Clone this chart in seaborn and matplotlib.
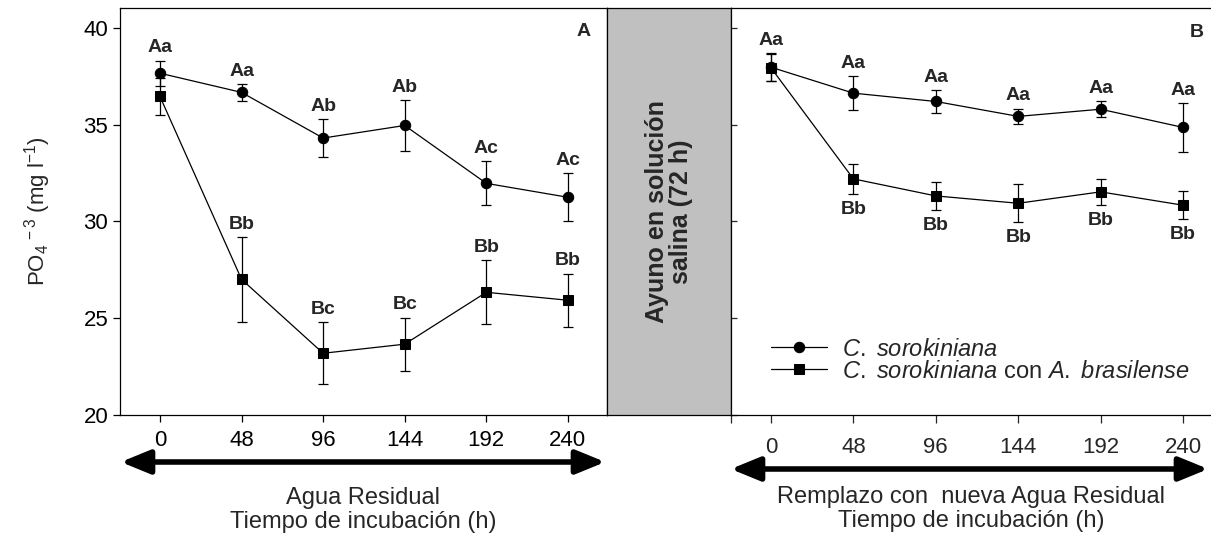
import matplotlib
matplotlib.use("Agg")
import matplotlib.pyplot as plt
import seaborn as sns
from matplotlib.patches import FancyArrowPatch

# data
hours = [0, 48, 96, 144, 192, 240]

# panel A: wastewater
a_cs = [37.66, 36.67, 34.31, 34.96, 31.97, 31.25]
a_cs_err = [0.65, 0.42, 0.98, 1.30, 1.14, 1.25]
a_ca = [36.46, 27.01, 23.19, 23.66, 26.34, 25.93]
a_ca_err = [0.95, 2.20, 1.60, 1.37, 1.65, 1.38]
a_cs_lab = ["Aa", "Aa", "Ab", "Ab", "Ac", "Ac"]
a_ca_lab = ["", "Bb", "Bc", "Bc", "Bb", "Bb"]

# panel B: replaced with new wastewater
b_cs = [37.97, 36.63, 36.20, 35.43, 35.80, 34.86]
b_cs_err = [0.73, 0.88, 0.60, 0.40, 0.42, 1.27]
b_ca = [37.94, 32.20, 31.32, 30.94, 31.53, 30.84]
b_ca_err = [0.70, 0.77, 0.72, 0.98, 0.67, 0.72]
b_cs_lab = ["Aa", "Aa", "Aa", "Aa", "Aa", "Aa"]
b_ca_lab = ["", "Bb", "Bb", "Bb", "Bb", "Bb"]

yticks = [20, 25, 30, 35, 40]
lab_cs = r"$\it{C.\ sorokiniana}$"
lab_ca = r"$\it{C.\ sorokiniana}$ con $\it{A.\ brasilense}$"

sns.set_style("ticks")
plt.rcParams["font.family"] = ["Liberation Sans", "DejaVu Sans"]
plt.rcParams["mathtext.fontset"] = "custom"
plt.rcParams["mathtext.rm"] = "Liberation Sans"
plt.rcParams["mathtext.it"] = "Liberation Sans:italic"
plt.rcParams["mathtext.bf"] = "Liberation Sans:bold"
plt.rcParams["mathtext.default"] = "regular"

fig = plt.figure(figsize=(12.11, 5.42), dpi=100)
W, H = 1211.0, 542.0
bot = 1 - 415 / H
hgt = (415 - 8) / H
axA = fig.add_axes([120 / W, bot, (607 - 120) / W, hgt])
axG = fig.add_axes([607 / W, bot, (731 - 607) / W, hgt])
axB = fig.add_axes([731 / W, bot, (1211 - 731) / W, hgt])


def draw_panel(ax, cs, cs_err, ca, ca_err, cs_lab, ca_lab, below, legend):
    for y, e, m, ms, lab in [(cs, cs_err, "o", 7.5, lab_cs), (ca, ca_err, "s", 6.5, lab_ca)]:
        ax.errorbar(hours, y, yerr=e, fmt="none", ecolor="black", elinewidth=0.9,
                    capsize=3.5, capthick=0.9, zorder=2)
        sns.lineplot(x=hours, y=y, ax=ax, color="black", marker=m, markersize=ms,
                     markeredgecolor="black", linewidth=0.9, label=lab,
                     legend=legend, zorder=3)
    for x, y, e, t in zip(hours, cs, cs_err, cs_lab):
        ax.annotate(t, (x, y + e), xytext=(0, 3), textcoords="offset points",
                    ha="center", va="bottom", fontsize=14, fontweight="bold")
    for x, y, e, t in zip(hours, ca, ca_err, ca_lab):
        if below:
            ax.annotate(t, (x, y - e), xytext=(0, -5), textcoords="offset points",
                        ha="center", va="top", fontsize=14, fontweight="bold")
        else:
            ax.annotate(t, (x, y + e), xytext=(0, 3), textcoords="offset points",
                        ha="center", va="bottom", fontsize=14, fontweight="bold")
    ax.set_ylim(20, 41.03)
    for s in ax.spines.values():
        s.set_color("black")
        s.set_linewidth(0.9)


draw_panel(axA, a_cs, a_cs_err, a_ca, a_ca_err, a_cs_lab, a_ca_lab, False, False)
draw_panel(axB, b_cs, b_cs_err, b_ca, b_ca_err, b_cs_lab, b_ca_lab, True, True)

# panel A axes
axA.set_xlim(-23.5, 263)
axA.set_xticks(hours)
axA.set_xticklabels([str(h) for h in hours])
axA.set_yticks(yticks)
axA.tick_params(axis="both", direction="out", length=5, width=0.9, labelsize=16,
                colors="black")
axA.tick_params(axis="x", pad=6)
axA.set_ylabel(r"PO$_4$$^{\,-3}$ (mg l$^{-1}$)", fontsize=16, labelpad=22)
axA.set_xlabel("Agua Residual\nTiempo de incubación (h)", fontsize=17,
               labelpad=26, linespacing=1.1)
axA.text(0.951, 0.943, "A", transform=axA.transAxes, ha="center", va="center",
         fontsize=14, fontweight="bold")

# panel B axes
axB.set_xlim(-23.3, 256.3)
axB.set_xticks([-23.3] + hours)
axB.set_xticklabels([""] + [str(h) for h in hours])
axB.set_yticks(yticks)
axB.set_yticklabels([])
axB.tick_params(axis="y", direction="in", length=4, width=0.9)
axB.tick_params(axis="x", direction="out", length=6, width=0.9, labelsize=16, pad=10)
axB.spines["right"].set_visible(False)
axB.set_xlabel("Remplazo con  nueva Agua Residual\nTiempo de incubación (h)",
               fontsize=17, labelpad=20, linespacing=1.1)
axB.text(0.971, 0.94, "B", transform=axB.transAxes, ha="center", va="center",
         fontsize=14, fontweight="bold")
axB.legend(loc="lower left", bbox_to_anchor=(0.063, 0.056), frameon=False,
           fontsize=17, handlelength=2.4, handletextpad=0.6, labelspacing=0.0,
           borderaxespad=0)

# grey starvation band
axG.set_facecolor("#c0c0c0")
axG.set_xticks([])
axG.set_yticks([])
for s in axG.spines.values():
    s.set_color("black")
    s.set_linewidth(0.9)
axG.text(0.5, 0.5, "Ayuno en solución\nsalina (72 h)", transform=axG.transAxes,
         rotation=90, ha="center", va="center", fontsize=18, fontweight="bold",
         linespacing=1.05)

# double headed arrows under the axes
for x0, x1, y in [(118, 608, 462), (728, 1211, 469)]:
    arr = FancyArrowPatch((x0 / W, 1 - y / H), (x1 / W, 1 - y / H),
                          transform=fig.transFigure,
                          arrowstyle="<|-|>,head_length=11,head_width=4.5",
                          mutation_scale=1.6, linewidth=4, color="black")
    fig.patches.append(arr)

fig.savefig("out.png", dpi=100)
